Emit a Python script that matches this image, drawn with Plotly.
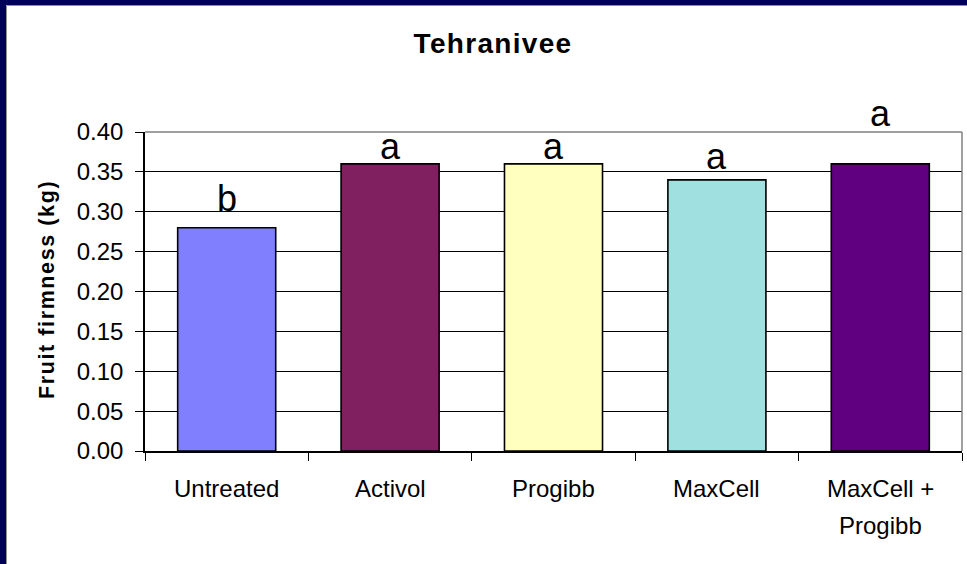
import plotly.graph_objects as go

categories = ["Untreated", "Activol", "Progibb", "MaxCell", "MaxCell +<br>Progibb"]
firmness = [0.28, 0.36, 0.36, 0.34, 0.36]
bar_colors = ["#8080FF", "#802060", "#FFFFC0", "#A0E0E0", "#600080"]
letters = ["b", "a", "a", "a", "a"]
letter_y = [0.300, 0.365, 0.365, 0.352, 0.406]
y_ticks = [0.0, 0.05, 0.10, 0.15, 0.20, 0.25, 0.30, 0.35, 0.40]
y_max = 0.40

W, H = 967, 564
L, R, T, B = 145, 5, 132, 113
pw, ph = W - L - R, H - T - B

def px2x(px):
    return (px - L) / pw

def py2y(py):
    return (H - B - py) / ph

FONT = "Liberation Sans, Arial, sans-serif"

fig = go.Figure()
fig.add_trace(go.Bar(
    x=categories, y=firmness,
    marker=dict(color=bar_colors, line=dict(color="black", width=1.6)),
    width=0.6, showlegend=False, hoverinfo="skip",
))

annotations = []
for cat, lt, ly in zip(categories, letters, letter_y):
    annotations.append(dict(x=cat, y=ly / y_max, xref="x", yref="paper", text=lt, showarrow=False,
                            yanchor="bottom", yshift=-9,
                            font=dict(family=FONT, size=36, color="black")))
for cat in categories:
    for j, line in enumerate(cat.split("<br>")):
        annotations.append(dict(x=cat, y=0, xref="x", yref="paper", text=line, showarrow=False,
                                yanchor="top", yshift=-22 - 37 * j,
                                font=dict(family=FONT, size=24, color="black")))
annotations.append(dict(x=px2x(47), y=py2y(290), xref="paper", yref="paper",
                        text="<span style='letter-spacing:1.6px'><b>Fruit firmness (kg)</b></span>",
                        textangle=-90, showarrow=False,
                        xanchor="center", yanchor="middle",
                        font=dict(family=FONT, size=21.5, color="black")))

shapes = [
    dict(type="rect", xref="paper", yref="paper", x0=px2x(0), x1=px2x(6), y0=py2y(H), y1=py2y(0),
         fillcolor="#000058", line=dict(width=0), layer="above"),
    dict(type="rect", xref="paper", yref="paper", x0=px2x(0), x1=px2x(W), y0=py2y(5), y1=py2y(0),
         fillcolor="#000058", line=dict(width=0), layer="above"),
    dict(type="line", xref="paper", yref="paper", x0=px2x(6.5), x1=px2x(6.5), y0=py2y(H), y1=py2y(5.5),
         line=dict(color="#909090", width=1), layer="above"),
    dict(type="line", xref="paper", yref="paper", x0=px2x(6.5), x1=px2x(W), y0=py2y(5.5), y1=py2y(5.5),
         line=dict(color="#909090", width=1), layer="above"),
    dict(type="line", xref="paper", yref="paper", x0=0, x1=1, y0=1, y1=1,
         line=dict(color="#808080", width=1.5), layer="above"),
    dict(type="line", xref="paper", yref="paper", x0=1, x1=1, y0=0, y1=1,
         line=dict(color="#808080", width=1.5), layer="above"),
]

fig.update_layout(
    width=W, height=H,
    margin=dict(l=L, r=R, t=T, b=B, pad=0),
    paper_bgcolor="white", plot_bgcolor="white",
    title=dict(text="<span style='letter-spacing:1.3px'><b>Tehranivee</b></span>",
               x=493 / W, xanchor="center", y=1 - 43 / H, yanchor="middle",
               font=dict(family=FONT, size=28, color="black")),
    xaxis=dict(type="category", categoryorder="array", categoryarray=categories,
               range=[-0.5, len(categories) - 0.5],
               showticklabels=False, ticks="outside", tickson="boundaries", ticklen=8,
               tickcolor="black", tickwidth=1, showline=True, linecolor="black", linewidth=1.5,
               showgrid=False, zeroline=False, fixedrange=True),
    yaxis=dict(range=[0, y_max], tickvals=y_ticks, ticktext=[f"{v:.2f}" for v in y_ticks],
               ticks="outside", ticklen=8, tickcolor="black", tickwidth=1,
               showline=True, linecolor="black", linewidth=1.5,
               showgrid=True, gridcolor="black", gridwidth=1, zeroline=False,
               ticklabelstandoff=7,
               tickfont=dict(family=FONT, size=24, color="black"), fixedrange=True),
    annotations=annotations, shapes=shapes, bargap=0.4,
)

fig.write_html("out.html", config={"displayModeBar": False},
               post_script="document.body.style.margin='0';document.body.style.padding='0';")
